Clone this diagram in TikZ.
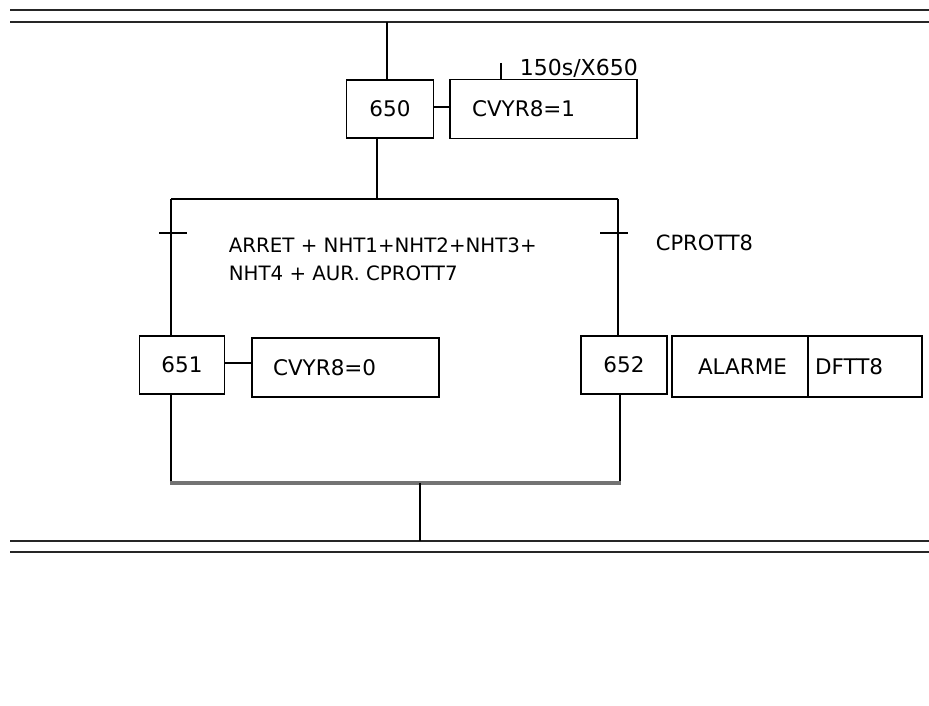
\documentclass[tikz,border=0pt]{standalone}
\usepackage{fontspec}
\setmainfont{DejaVu Sans}
\begin{document}
\begin{tikzpicture}[x=1pt,y=-1pt,
  line width=1.7pt,
  stepbox/.style={draw,line width=1.8pt,minimum height=58pt,inner sep=0pt,font=\fontsize{21.5}{24}\selectfont},
  actbox/.style={draw,line width=1.8pt,minimum height=59pt,inner ysep=0pt,align=left,font=\fontsize{21.5}{24}\selectfont},
  rail/.style={line width=2pt,black!85},
  link/.style={line width=1.7pt},
  cond/.style={inner sep=0pt,anchor=west,font=\fontsize{19.8}{28}\selectfont}]
\useasboundingbox (0,0) rectangle (929,706);
% rails
\coordinate (t1l) at (10,10); \coordinate (t1r) at (929,10);
\coordinate (t2l) at (10,22); \coordinate (t2r) at (929,22);
\coordinate (b1l) at (10,541); \coordinate (b1r) at (929,541);
\coordinate (b2l) at (10,552); \coordinate (b2r) at (929,552);
\draw[rail] (t1l) -- (t1r);
\draw[rail] (t2l) -- (t2r);
\draw[rail] (b1l) -- (b1r);
\draw[rail] (b2l) -- (b2r);
% steps
\node[stepbox,minimum width=87pt] (s650) at (390,109) {650};
\node[actbox,minimum width=187pt,text width=143pt,inner xsep=22pt] (a650) at (543.5,109) {CVYR8=1};
\node[stepbox,minimum width=85pt] (s651) at (182,365) {651};
\node[actbox,minimum width=187pt,text width=145pt,inner xsep=21pt] (a651) at (345.5,367.5) {CVYR8=0};
\node[stepbox,minimum width=86pt] (s652) at (624,365) {652};
\node[actbox,minimum width=136pt,minimum height=61pt,text width=110pt,inner xsep=13pt] (a652a) at (740,366.5) {\hspace*{13pt}ALARME};
\node[actbox,minimum width=114pt,minimum height=61pt,text width=100pt,inner xsep=7pt] (a652b) at (865,366.5) {DFTT8};
% action links
\draw[link] (s650.east |- 0,107) -- (a650.west |- 0,107);
\draw[link] (s651.east |- 0,363) -- (a651.west |- 0,363);
% step 650 links
\coordinate (in650) at (387,22);
\draw[link] (in650) -- (in650 |- s650.north);
\coordinate (div) at (377,199);
\draw[link] (div |- s650.south) -- (div);
% divergence
\coordinate (dl) at (171,199); \coordinate (dr) at (618,199);
\draw[link] (dl) -- (dr);
\draw[link] (dl) -- (dl |- s651.north);
\draw[link] (dr) -- (dr |- s652.north);
% transitions
\coordinate (tl) at (173,233); \coordinate (tr) at (614,233);
\draw[link] ([xshift=-14pt]tl) -- ([xshift=14pt]tl);
\draw[link] ([xshift=-14pt]tr) -- ([xshift=14pt]tr);
\node[cond,align=left] (c1) at (228,259) {ARRET + NHT1+NHT2+NHT3+\\NHT4 + AUR. CPROTT7};
\node[cond,font=\fontsize{21}{24}\selectfont] (c2) at (655,243) {CPROTT8};
% timing
\coordinate (tk) at (501,63);
\draw[link] (tk) -- (tk |- a650.north);
\node[inner sep=0pt,anchor=west,font=\fontsize{22}{24}\selectfont] (tm) at (519,68) {150s/X650};
% convergence
\coordinate (cl) at (171,483); \coordinate (cr) at (620,483);
\draw[link] (s651.south -| cl) -- (cl);
\draw[link] (s652.south -| cr) -- (cr);
\draw[line width=3.5pt,black!55] ([xshift=-1pt]cl) -- ([xshift=1pt]cr);
\coordinate (cm) at (420,483);
\draw[link] (cm) -- (cm |- b1l);
\end{tikzpicture}
\end{document}
